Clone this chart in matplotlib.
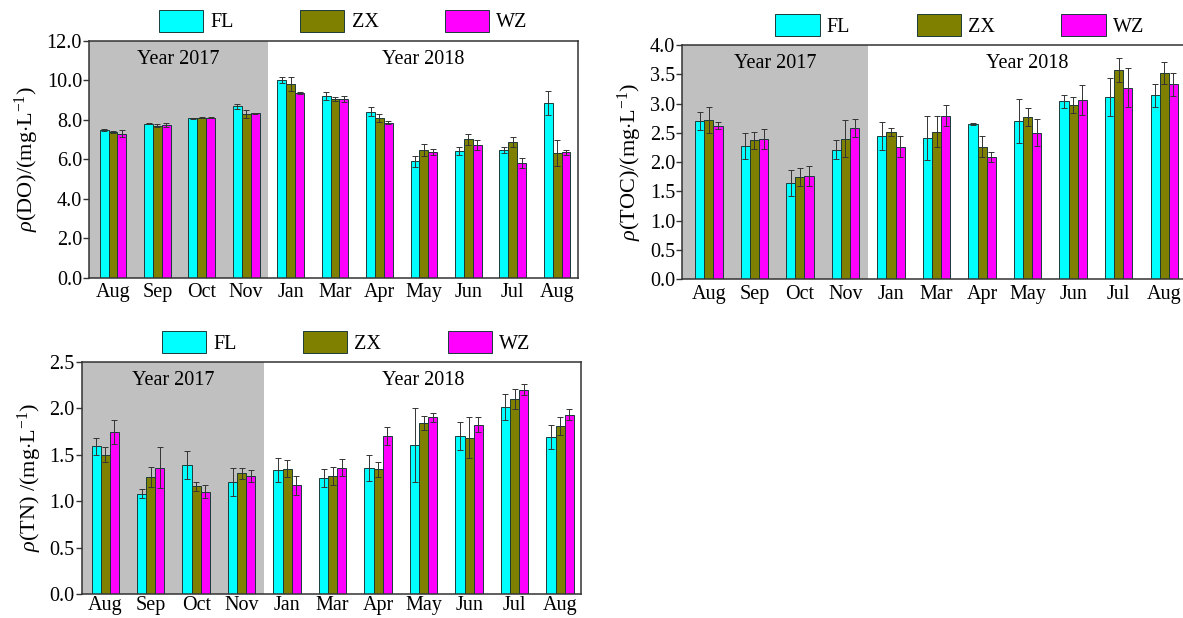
"""
DO, TOC and TN at the three sites (FL, ZX, WZ), Aug 2017 - Aug 2018
"""

import numpy as np
import matplotlib
matplotlib.use('Agg')
import matplotlib.pyplot as plt

plt.rcParams['font.family'] = ['Liberation Serif', 'DejaVu Serif']
plt.rcParams['mathtext.fontset'] = 'custom'
plt.rcParams['mathtext.rm'] = 'Liberation Serif'
plt.rcParams['mathtext.it'] = 'Liberation Serif:italic'

months = ['Aug', 'Sep', 'Oct', 'Nov', 'Jan', 'Mar', 'Apr', 'May', 'Jun', 'Jul', 'Aug']
n_2017 = 4
sites = ['FL', 'ZX', 'WZ']
colors = ['#00FFFF', '#808000', '#FF00FF']

# dissolved oxygen
do_fl = [7.5, 7.8, 8.07, 8.68, 10.0, 9.2, 8.4, 5.9, 6.4, 6.45, 8.85]
do_zx = [7.4, 7.7, 8.1, 8.3, 9.8, 9.05, 8.1, 6.45, 7.0, 6.85, 6.3]
do_wz = [7.3, 7.75, 8.1, 8.32, 9.37, 9.05, 7.85, 6.35, 6.7, 5.8, 6.35]
do_fl_err = [0.05, 0.03, 0.03, 0.12, 0.15, 0.2, 0.22, 0.28, 0.2, 0.15, 0.6]
do_zx_err = [0.05, 0.08, 0.03, 0.2, 0.35, 0.12, 0.2, 0.3, 0.3, 0.25, 0.65]
do_wz_err = [0.2, 0.1, 0.03, 0.03, 0.05, 0.15, 0.08, 0.15, 0.25, 0.25, 0.12]

# total organic carbon
toc_fl = [2.70, 2.28, 1.65, 2.21, 2.44, 2.41, 2.65, 2.70, 3.04, 3.11, 3.14]
toc_zx = [2.72, 2.37, 1.75, 2.40, 2.51, 2.52, 2.26, 2.77, 2.98, 3.57, 3.52]
toc_wz = [2.62, 2.40, 1.77, 2.58, 2.26, 2.79, 2.09, 2.50, 3.06, 3.27, 3.33]
toc_fl_err = [0.15, 0.22, 0.22, 0.16, 0.24, 0.37, 0.02, 0.37, 0.11, 0.32, 0.2]
toc_zx_err = [0.22, 0.14, 0.15, 0.32, 0.07, 0.26, 0.18, 0.16, 0.14, 0.2, 0.19]
toc_wz_err = [0.06, 0.17, 0.17, 0.15, 0.18, 0.18, 0.08, 0.23, 0.26, 0.33, 0.2]

# total nitrogen
tn_fl = [1.59, 1.08, 1.39, 1.21, 1.33, 1.25, 1.36, 1.60, 1.70, 2.01, 1.69]
tn_zx = [1.50, 1.26, 1.16, 1.30, 1.35, 1.27, 1.34, 1.84, 1.68, 2.10, 1.81]
tn_wz = [1.74, 1.36, 1.10, 1.27, 1.17, 1.36, 1.70, 1.90, 1.82, 2.20, 1.93]
tn_fl_err = [0.09, 0.05, 0.15, 0.15, 0.13, 0.1, 0.14, 0.4, 0.15, 0.14, 0.13]
tn_zx_err = [0.08, 0.11, 0.05, 0.06, 0.09, 0.1, 0.08, 0.08, 0.22, 0.11, 0.1]
tn_wz_err = [0.13, 0.22, 0.07, 0.06, 0.1, 0.09, 0.1, 0.05, 0.08, 0.06, 0.06]


def bar_panel(ax, vals, errs, ylim, ystep, ylabel, xlim, leg_x, hide_right=False, xpad=4):
    x = np.arange(len(months))
    w = 0.2
    ax.set_xlim(xlim)
    ax.set_ylim(0, ylim)
    ax.axvspan(xlim[0], n_2017 - 0.5, color='#C0C0C0', zorder=0, lw=0)
    for i, (v, e) in enumerate(zip(vals, errs)):
        ax.bar(x + (i - 1) * w, v, w, color=colors[i], edgecolor='#1a3a3a',
               linewidth=0.7, label=sites[i], zorder=2)
        ax.errorbar(x + (i - 1) * w, v, yerr=e, fmt='none', ecolor='#333333',
                    elinewidth=0.7, capsize=2.5, capthick=0.7, zorder=3)
    ax.set_xticks(x)
    ax.set_xticklabels(months, fontsize=14.5)
    ticks = np.arange(0, ylim + ystep / 2, ystep)
    ax.set_yticks(ticks)
    ax.set_yticklabels(['%.1f' % t for t in ticks], fontsize=14.5)
    ax.tick_params(axis='x', length=0, pad=xpad)
    ax.tick_params(axis='y', direction='out', length=4, width=1, color='#333333', pad=1)
    for s in ax.spines.values():
        s.set_color('#333333')
        s.set_linewidth(1.1)
    if hide_right:
        ax.spines['right'].set_visible(False)
    ax.set_ylabel(ylabel, fontsize=16, labelpad=4)
    ax.text((xlim[0] + n_2017 - 0.5) / 2, ylim * 0.92, 'Year 2017', fontsize=14.5,
            ha='center', va='center')
    ax.text((n_2017 - 0.5 + xlim[1]) / 2, ylim * 0.92, 'Year 2018', fontsize=14.5,
            ha='center', va='center')
    ax.legend(loc='lower center', bbox_to_anchor=(leg_x, 1.035), ncol=3, frameon=False,
              fontsize=14.5, handlelength=2.2, handleheight=1.3, handletextpad=0.35,
              columnspacing=3.3, borderaxespad=0, borderpad=0)


fig = plt.figure(figsize=(11.83, 6.18), dpi=100)
W, H = 1183.0, 618.0

ax1 = fig.add_axes([89 / W, (H - 277.7) / H, 489 / W, 237 / H])
bar_panel(ax1, [do_fl, do_zx, do_wz], [do_fl_err, do_zx_err, do_wz_err], 12.0, 2.0,
          r'$\rho$(DO)/(mg$\cdot$L$^{-1}$)', (-0.54, 10.47), 0.52)

ax2 = fig.add_axes([682 / W, (H - 279.3) / H, 505 / W, 234.3 / H])
bar_panel(ax2, [toc_fl, toc_zx, toc_wz], [toc_fl_err, toc_zx_err, toc_wz_err], 4.0, 0.5,
          r'$\rho$(TOC)/(mg$\cdot$L$^{-1}$)', (-0.59, 10.5), 0.55, hide_right=True)

ax3 = fig.add_axes([81.5 / W, (H - 594) / H, 499.5 / W, 232.3 / H])
bar_panel(ax3, [tn_fl, tn_zx, tn_wz], [tn_fl_err, tn_zx_err, tn_wz_err], 2.5, 0.5,
          r'$\rho$(TN) /(mg$\cdot$L$^{-1}$)', (-0.52, 10.46), 0.53, xpad=1.5)

fig.savefig('out.png', dpi=100)
